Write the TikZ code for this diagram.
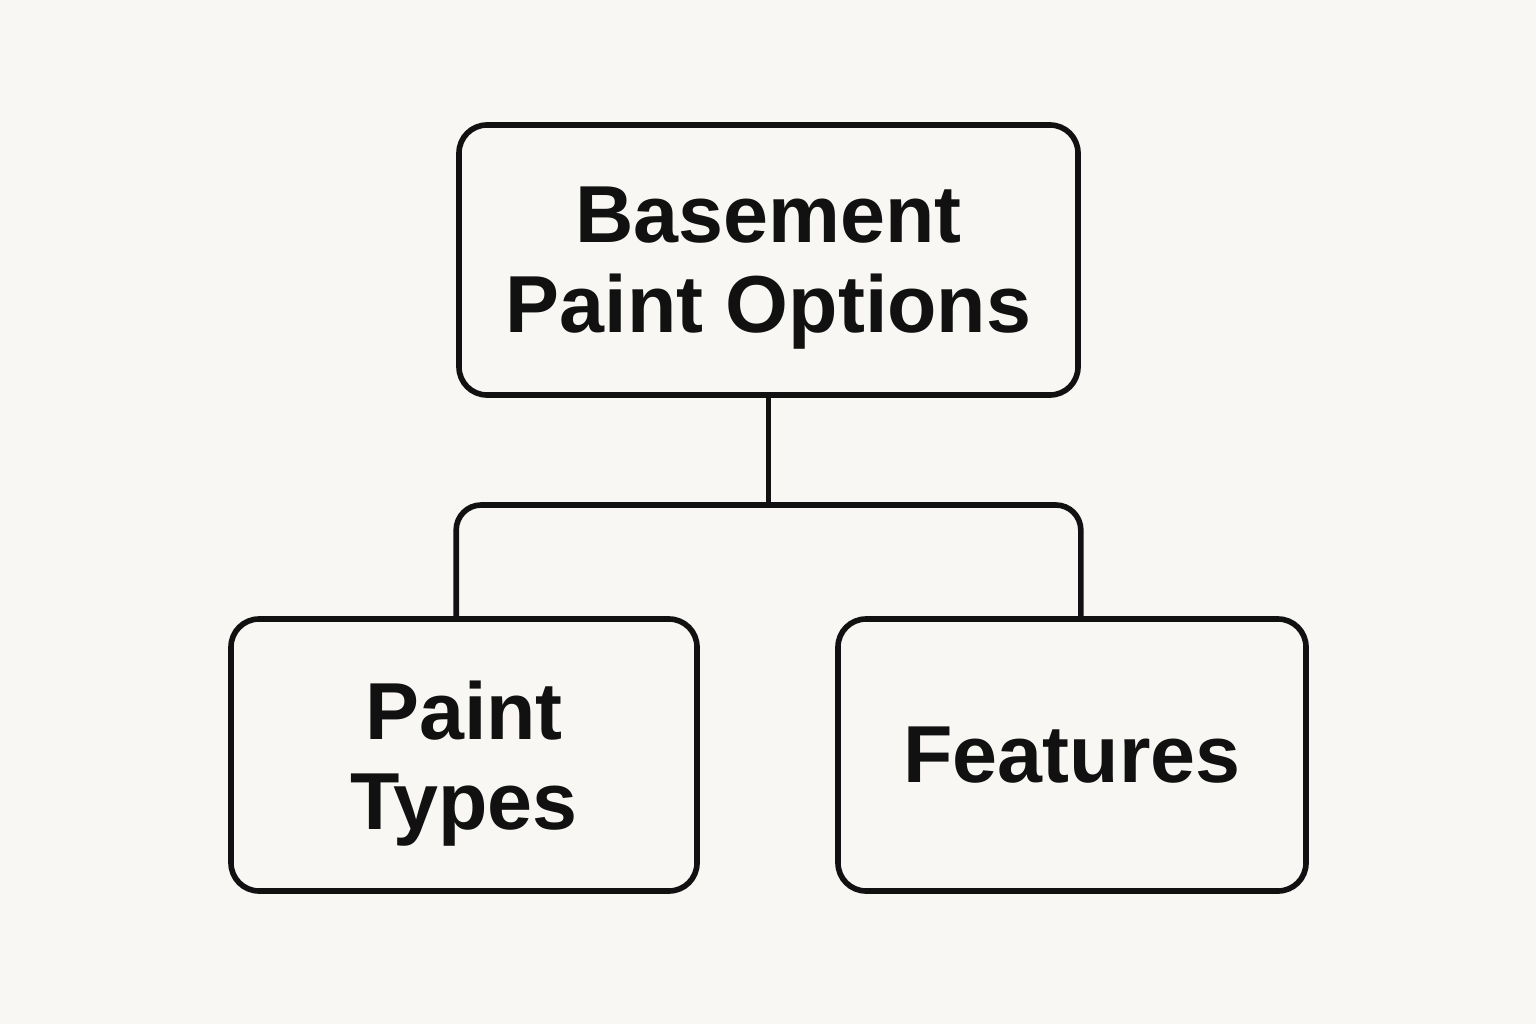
\documentclass[tikz,border=0pt]{standalone}
\usepackage{fontspec}
\setmainfont{Liberation Sans}
\usepackage{tikz}

\definecolor{bg}{HTML}{F8F7F3}
\definecolor{ink}{HTML}{111111}

\begin{document}
\begin{tikzpicture}[box/.style={draw=ink, line width=1.6pt, rounded corners=0.28cm, align=center, text=ink, inner sep=0pt, text depth=0pt, font=\fontsize{23}{25.5}\selectfont\bfseries}, link/.style={draw=ink, line width=1.6pt}]
\fill[bg] (0,0) rectangle (15.36,10.24);
\useasboundingbox (0,0) rectangle (15.36,10.24);
\node[box, minimum width=6.19cm, minimum height=2.70cm] (top) at (7.685,7.64) {Basement\\Paint Options};
\node[box, minimum width=4.66cm, minimum height=2.72cm] (paint) at (4.64,2.69) {Paint\\Types};
\node[box, minimum width=4.68cm, minimum height=2.72cm] (feat) at (10.72,2.69) {Features};
\coordinate (split) at (7.685,5.19);
\draw[link] (top.south) -- (split);
\draw[link, rounded corners=0.25cm] (paint.north -| top.west) |- (split) -| (feat.north -| top.east);
\end{tikzpicture}
\end{document}
